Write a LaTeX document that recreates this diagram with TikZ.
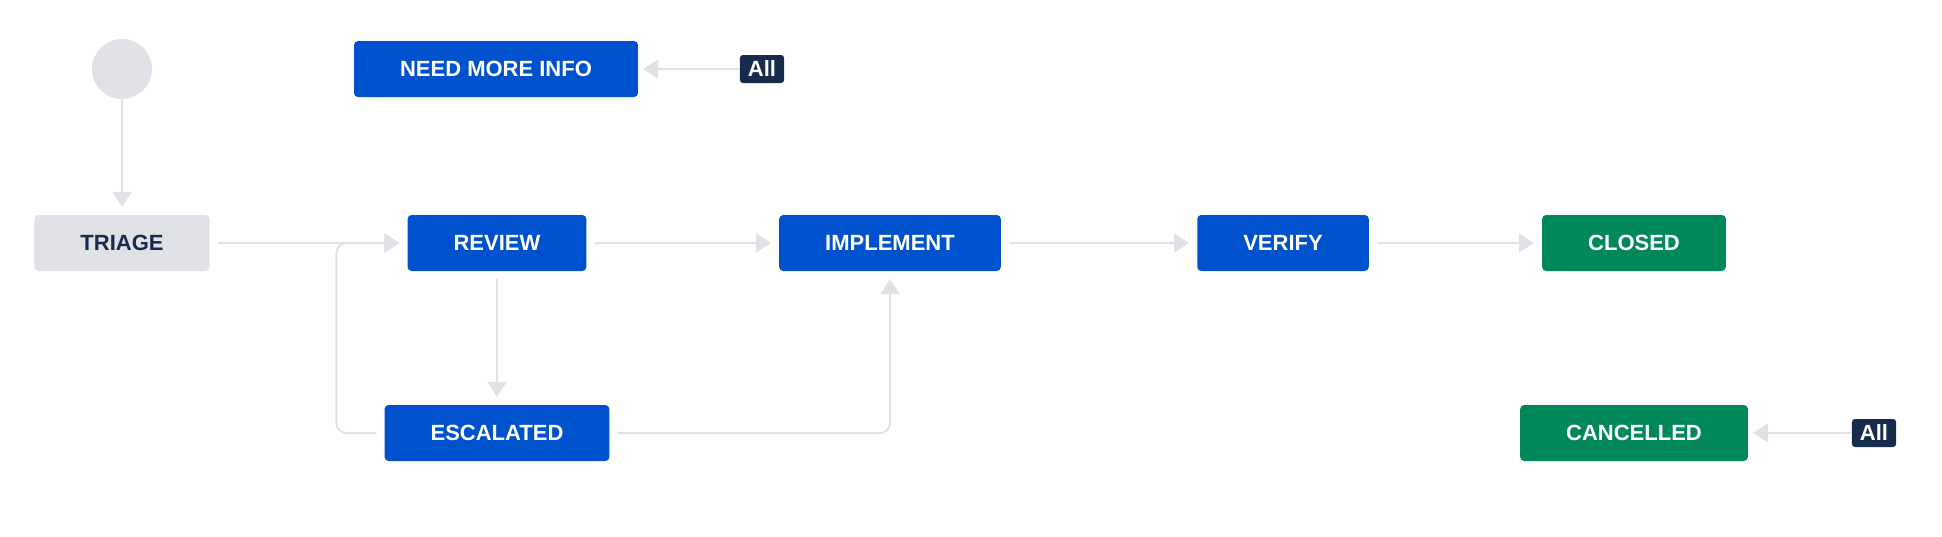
\documentclass[tikz,border=0pt]{standalone}
\usepackage{fontspec}
\setmainfont{Liberation Sans}
\usetikzlibrary{arrows.meta}
\definecolor{jiraBlue}{HTML}{0052CC}
\definecolor{jiraGreen}{HTML}{00875A}
\definecolor{jiraGrey}{HTML}{DFE1E6}
\definecolor{jiraNavy}{HTML}{172B4D}
\tikzset{
  status/.style={rounded corners=4pt, minimum height=56pt, inner xsep=46pt, inner ysep=0pt,
    font=\fontsize{22}{26}\selectfont\bfseries, text=white},
  todo/.style={status, fill=jiraGrey, text=jiraNavy},
  inprog/.style={status, fill=jiraBlue},
  done/.style={status, fill=jiraGreen},
  allbadge/.style={rounded corners=3pt, fill=jiraNavy, text=white, minimum height=28pt,
    inner xsep=8pt, inner ysep=0pt, font=\fontsize{22}{26}\selectfont\bfseries},
  link/.style={draw=jiraGrey, line width=2pt, -{Triangle[length=15pt,width=19pt]},
    shorten <=8pt, shorten >=8pt, rounded corners=10pt}
}

\begin{document}
\begin{tikzpicture}[x=1pt, y=-1pt]
	%%%%% START %%%%%
	\useasboundingbox (0, 0) rectangle (1942, 536);
	
	\node[circle, fill=jiraGrey, minimum size=60pt, inner sep=0pt] (start) at (122, 69) {};
	\node[inprog] (needinfo) at (496, 69) {NEED MORE INFO};
	\node[allbadge] (allinfo) at (762, 69) {All};
	
	\node[todo] (triage) at (122, 243) {TRIAGE};
	\node[inprog] (review) at (497, 243) {REVIEW};
	\node[inprog] (implement) at (890, 243) {IMPLEMENT};
	\node[inprog] (verify) at (1283, 243) {VERIFY};
	\node[done] (closed) at (1634, 243) {CLOSED};
	
	\node[inprog] (escalated) at (497, 433) {ESCALATED};
	\node[done] (cancelled) at (1634, 433) {CANCELLED};
	\node[allbadge] (allcancel) at (1874, 433) {All};
	
	\draw[link, shorten <=0pt] (start) -- (triage);
	\draw[link] (triage) -- (review);
	\draw[link] (review) -- (implement);
	\draw[link] (implement) -- (verify);
	\draw[link] (verify) -- (closed);
	\draw[link] (review) -- (escalated);
	\draw[link] (escalated.west) -- ++(-48, 0) |- (review.west);
	\draw[link] (escalated.east) -| (implement.south);
	
	\draw[link, shorten <=0pt, shorten >=5pt] (allinfo) -- (needinfo);
	\draw[link, shorten <=0pt, shorten >=5pt] (allcancel) -- (cancelled);
	%%%%% END %%%%%
\end{tikzpicture}
\end{document}
